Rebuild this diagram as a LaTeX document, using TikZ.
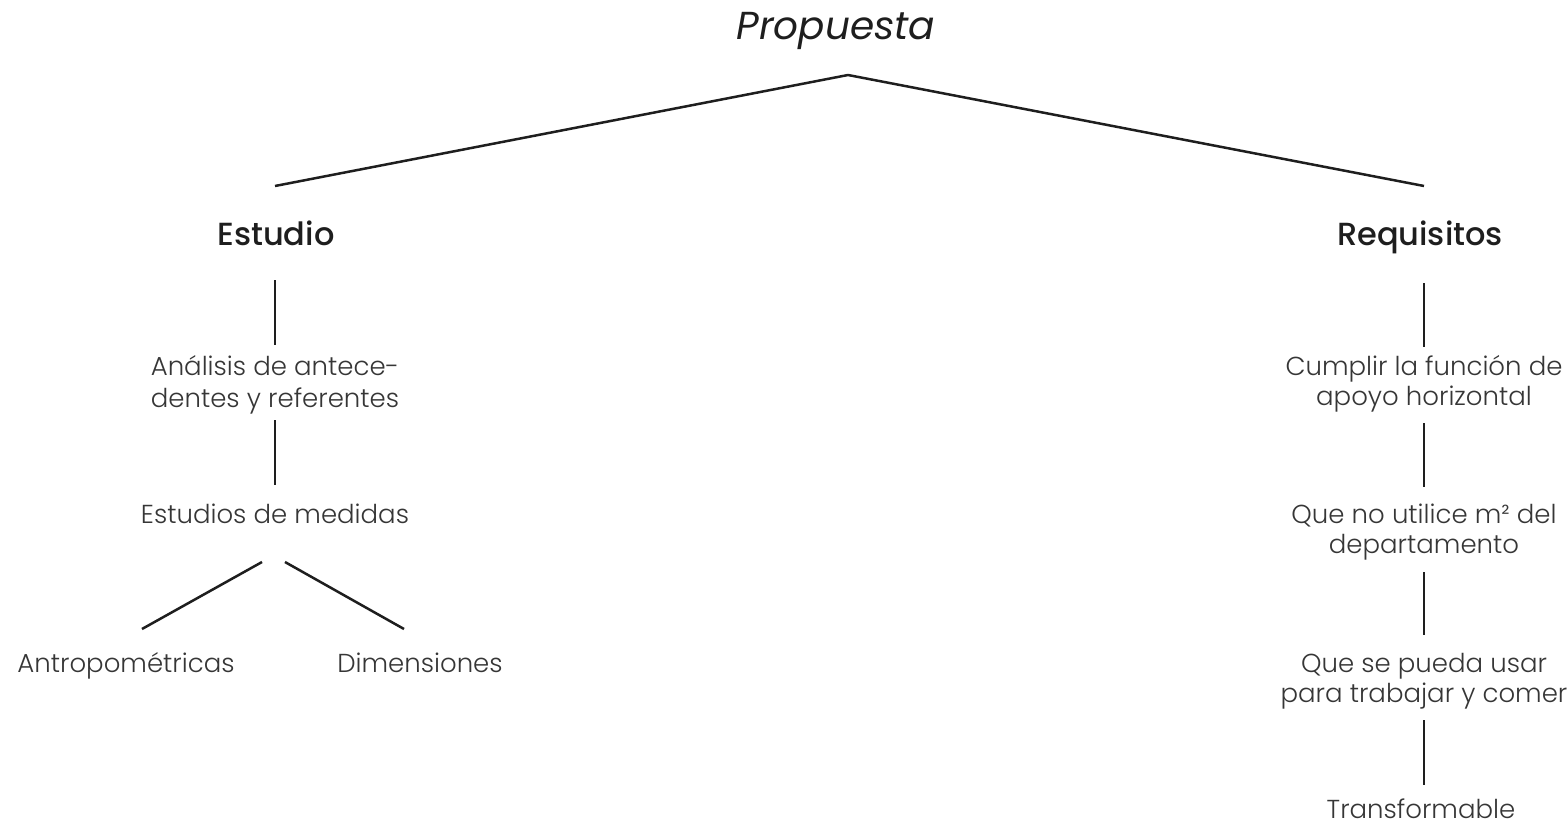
\documentclass[tikz,border=0pt]{standalone}
\usepackage{fontspec}
\setmainfont{Poppins}[UprightFont=* Light, ItalicFont=* Italic, BoldFont=* Medium]
\usepackage{tikz}
\usetikzlibrary{positioning}
\definecolor{textgray}{HTML}{363636}
\definecolor{linegray}{HTML}{1E1E1E}
\tikzset{
    titulo/.style={inner sep=0pt, anchor=base, text=linegray, font=\fontsize{19.5}{23}\selectfont\itshape},
    rama/.style={inner sep=0pt, anchor=base, text=linegray, font=\fontsize{16}{19}\selectfont\bfseries},
    item/.style={inner sep=0pt, anchor=base, align=center, text=textgray, font=\fontsize{13}{15}\selectfont},
    link/.style={draw=linegray, line width=1.25pt}
}

\begin{document}
\begin{tikzpicture}[x=0.5pt, y=-0.5pt]
    \useasboundingbox (0,0) rectangle (1568,824);

    \node[titulo] (propuesta) at (836,40) {Propuesta};
    \coordinate (apex) at ([shift={(12,35)}]propuesta.base);

    % left branch
    \node[rama] (estudio) at (276,245) {Estudio};
    \node[item, font=\fontsize{13}{16}\selectfont] (analisis) at (275,407) {Análisis de antece-\\dentes y referentes};
    \node[item] (medidas) at (275,523) {Estudios de medidas};
    \node[item] (antropo) at (126,672) {Antropométricas};
    \node[item] (dimens) at (420,672) {Dimensiones};

    % right branch
    \node[rama] (requisitos) at (1420,245) {Requisitos};
    \node[item] (cumplir) at (1424,405) {Cumplir la función de\\apoyo horizontal};
    \node[item] (utilice) at (1424,553) {Que no utilice m² del\\departamento};
    \node[item] (usar) at (1424,702) {Que se pueda usar\\para trabajar y comer};
    \node[item] (transf) at (1421,818) {Transformable};

    \draw[link] (apex) -- ([shift={(-1,-59)}]estudio.base);
    \draw[link] (apex) -- ([shift={(4,-59)}]requisitos.base);

    \draw[link] ([shift={(-1,35)}]estudio.base) -- ([shift={(0,-62)}]analisis.base);
    \draw[link] ([shift={(0,13)}]analisis.base) -- ([shift={(0,-38)}]medidas.base);
    \draw[link] ([shift={(-13,39)}]medidas.base) -- ([shift={(16,-43)}]antropo.base);
    \draw[link] ([shift={(10,39)}]medidas.base) -- ([shift={(-16,-43)}]dimens.base);

    \draw[link] ([shift={(4,38)}]requisitos.base) -- ([shift={(0,-58)}]cumplir.base);
    \draw[link] ([shift={(0,18)}]cumplir.base) -- ([shift={(0,-66)}]utilice.base);
    \draw[link] ([shift={(0,19)}]utilice.base) -- ([shift={(0,-67)}]usar.base);
    \draw[link] ([shift={(0,18)}]usar.base) -- ([shift={(3,-33)}]transf.base);
\end{tikzpicture}
\end{document}
